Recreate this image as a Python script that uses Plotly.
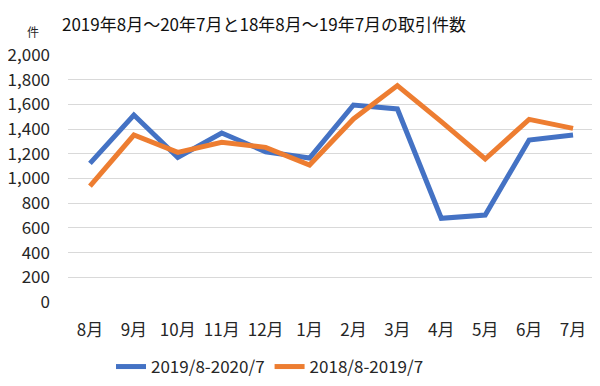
import plotly.graph_objects as go

months = ["8月", "9月", "10月", "11月", "12月", "1月", "2月", "3月", "4月", "5月", "6月", "7月"]
series_2019_20 = [1123, 1514, 1170, 1368, 1217, 1166, 1595, 1563, 678, 704, 1312, 1352]
series_2018_19 = [939, 1352, 1212, 1293, 1252, 1109, 1482, 1752, 1460, 1158, 1479, 1406]
name_a = "2019/8-2020/7"
name_b = "2018/8-2019/7"
title = "2019年8月～20年7月と18年8月～19年7月の取引件数"
yticks = [0, 200, 400, 600, 800, 1000, 1200, 1400, 1600, 1800, 2000]

font_family = "Noto Sans CJK JP, Noto Sans, sans-serif"

# page body has an 8px margin; figure sized to fill the rest of the window
W, H = 592, 378
L, T, R, B = 60, 47, 5, 84
pw = W - L - R
ph = H - T - B

fig = go.Figure()
fig.add_trace(go.Scatter(x=months, y=series_2019_20, mode="lines", name=name_a,
                         line=dict(color="#4472C4", width=5)))
fig.add_trace(go.Scatter(x=months, y=series_2018_19, mode="lines", name=name_b,
                         line=dict(color="#ED7D31", width=5)))

fig.update_layout(
    width=W, height=H,
    margin=dict(l=L, r=R, t=T, b=B, autoexpand=False),
    paper_bgcolor="white", plot_bgcolor="white",
    font=dict(family=font_family, color="#262626", size=17),
    title=dict(text=title, x=54/W, xanchor="left", xref="container",
               y=1-17/H, yanchor="middle", yref="container",
               font=dict(size=17, color="#111111")),
    showlegend=True,
    legend=dict(orientation="h", x=(262-L)/pw, xanchor="center", xref="paper",
                y=-65/ph, yanchor="middle", yref="paper",
                font=dict(size=17), tracegroupgap=0),
    xaxis=dict(showgrid=False, showline=False, zeroline=False, ticks="",
               range=[-0.5, 11.5],
               tickfont=dict(size=17), ticklabelstandoff=16),
    yaxis=dict(range=[0, 2000], tickvals=yticks, tickformat=",d",
               showgrid=True, gridcolor="#d9d9d9", gridwidth=1,
               zeroline=False, showline=False, ticks="",
               tickfont=dict(size=17), ticklabelstandoff=17),
)
fig.add_annotation(text="件", xref="paper", yref="paper",
                   x=(25-L)/pw, y=(ph + T - 24)/ph, showarrow=False,
                   xanchor="center", yanchor="middle", font=dict(size=12))

fig.write_html("out.html")
